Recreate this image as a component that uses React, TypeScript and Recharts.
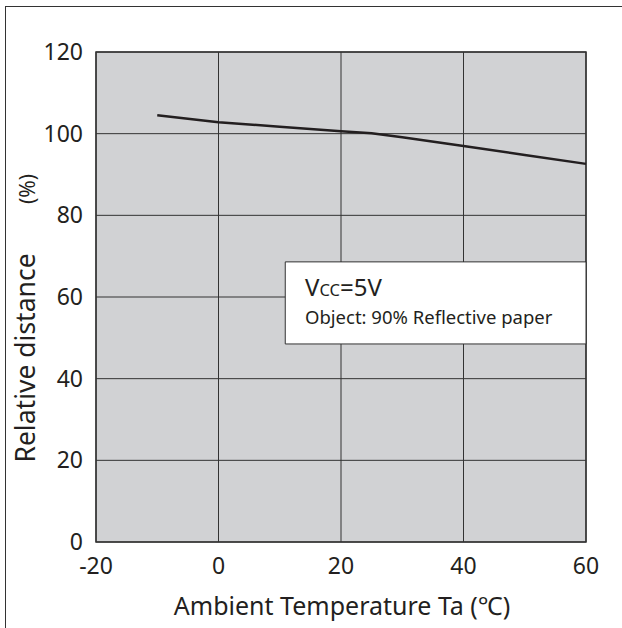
import React from "react";
import {
  LineChart,
  Line,
  XAxis,
  YAxis,
  CartesianGrid,
  ReferenceArea,
} from "recharts";

const temps = [-10, 0, 10, 20, 25, 30, 40, 50, 60];
const relDistance = [104.5, 102.8, 101.7, 100.6, 100.1, 99.1, 97.0, 94.8, 92.6];
const xTicks = [-20, 0, 20, 40, 60];
const yTicks = [0, 20, 40, 60, 80, 100, 120];

const data = temps.map((t, i) => ({ t, d: relDistance[i] }));

const FONT = "'Noto Sans', 'Open Sans', sans-serif";
const INK = "#231f20";

const App = () => {
  return (
    <div
      style={{
        position: "absolute",
        left: 0,
        top: 0,
        width: 622,
        height: 628,
        overflow: "hidden",
        background: "#fff",
        fontFamily: FONT,
      }}
    >
      <div
        style={{
          position: "absolute",
          left: 5,
          top: 6,
          width: 620,
          height: 624,
          borderLeft: "1.5px solid #333",
          borderTop: "1.5px solid #333",
        }}
      />
      <div style={{ position: "absolute", left: 0, top: 0 }}>
        <LineChart
          width={622}
          height={628}
          data={data}
          margin={{ top: 52, right: 36, bottom: 0, left: 0 }}
        >
          <CartesianGrid
            fill="#d1d2d4"
            stroke="#333"
            strokeWidth={1}
            horizontalValues={yTicks}
            verticalValues={xTicks}
          />
          <XAxis
            dataKey="t"
            type="number"
            domain={[-20, 60]}
            ticks={xTicks}
            height={86}
            axisLine={false}
            tickLine={false}
            tickSize={0}
            tickMargin={16}
            tick={{ fill: INK, fontSize: 23, fontFamily: FONT }}
          />
          <YAxis
            type="number"
            domain={[0, 120]}
            ticks={yTicks}
            width={96}
            axisLine={false}
            tickLine={false}
            tickSize={0}
            tickMargin={13}
            tick={{ fill: INK, fontSize: 23, fontFamily: FONT }}
          />
          <ReferenceArea
            x1={-20}
            x2={60}
            y1={0}
            y2={120}
            fill="none"
            stroke="#333"
            strokeWidth={1.5}
            ifOverflow="visible"
          />
          <ReferenceArea
            x1={10.9}
            x2={60}
            y1={48.5}
            y2={68.6}
            fill="#fff"
            fillOpacity={1}
            stroke="#333"
            strokeWidth={1}
          />
          <Line
            dataKey="d"
            type="linear"
            stroke={INK}
            strokeWidth={2.5}
            dot={false}
            isAnimationActive={false}
          />
        </LineChart>
      </div>
      <svg
        width={622}
        height={628}
        style={{ position: "absolute", left: 0, top: 0, pointerEvents: "none" }}
      >
        <text x={305} y={296} fill={INK} fontFamily={FONT} fontSize={24}>
          V<tspan fontSize={16.5}>CC</tspan>=5V
        </text>
        <text x={305} y={324} fill={INK} fontFamily={FONT} fontSize={18.5}>
          Object: 90% Reflective paper
        </text>
        <text
          x={342}
          y={615}
          fill={INK}
          fontFamily={FONT}
          fontSize={25}
          textAnchor="middle"
        >
          Ambient Temperature Ta (℃)
        </text>
        <text
          transform="translate(35,358) rotate(-90)"
          fill={INK}
          fontFamily={FONT}
          fontSize={26.5}
          textAnchor="middle"
        >
          Relative distance
        </text>
        <text
          transform="translate(35,189) rotate(-90)"
          fill={INK}
          fontFamily={FONT}
          fontSize={21}
          textAnchor="middle"
        >
          (%)
        </text>
      </svg>
    </div>
  );
};

export default App;
